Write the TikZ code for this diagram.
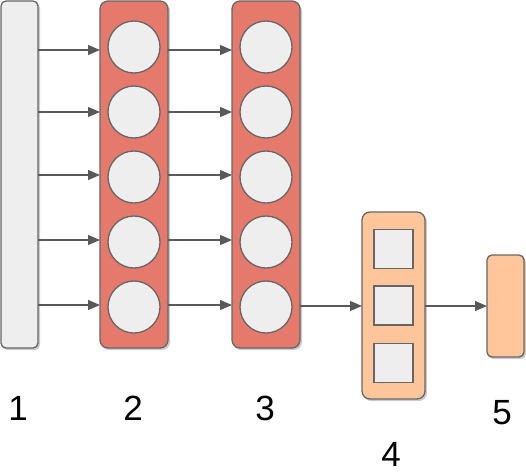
\documentclass[tikz,border=0pt]{standalone}
\usepackage{fontspec}
\setmainfont{Liberation Sans}
\usetikzlibrary{arrows.meta}
\definecolor{lgray}{HTML}{EEEEEE}
\definecolor{bord}{HTML}{666666}
\definecolor{salmon}{HTML}{E57A6C}
\definecolor{peach}{HTML}{FFC69C}
\definecolor{arr}{HTML}{595959}
\begin{document}
\begin{tikzpicture}[x=1pt,y=-1pt,
  box/.style={draw=bord,line width=1.3pt,rounded corners=#1,inner sep=0pt,outer sep=0pt},
  unit/.style={circle,draw=bord,fill=lgray,line width=1.3pt,minimum size=52pt,inner sep=0pt},
  cell/.style={rectangle,draw=bord,fill=lgray,line width=1.3pt,minimum size=39pt,inner sep=0pt},
  conn/.style={draw=arr,line width=1.2pt,-{Triangle[length=12pt,width=10pt]}},
  lbl/.style={font=\fontsize{35}{40}\selectfont,inner sep=0pt}]
\useasboundingbox (0,0) rectangle (526,474);
% shadows
\fill[black!20,rounded corners=5pt] (2,3) rectangle (40,350);
\fill[black!20,rounded corners=8pt] (101,3) rectangle (170,350);
\fill[black!20,rounded corners=8pt] (233,3) rectangle (302,350);
\fill[black!20,rounded corners=8pt] (363,214) rectangle (427,401);
\fill[black!20,rounded corners=5pt] (488,257) rectangle (526,359);
% boxes
\node[box=5pt,fill=lgray,minimum width=37pt,minimum height=347pt] (b1) at (19.5,174.5) {};
\node[box=8pt,fill=salmon,minimum width=68pt,minimum height=347pt] (b2) at (134,174.5) {};
\node[box=8pt,fill=salmon,minimum width=68pt,minimum height=347pt] (b3) at (266,174.5) {};
\node[box=8pt,fill=peach,minimum width=63pt,minimum height=187pt] (b4) at (393.5,305.5) {};
\node[box=5pt,fill=peach,minimum width=37pt,minimum height=102pt] (b5) at (505.5,306) {};
% circles
\foreach \i/\y in {1/47,2/112,3/177,4/242,5/307}{
  \node[unit] (c2\i) at (134,\y) {};
  \node[unit] (c3\i) at (266,\y) {};
}
% squares
\node[cell] (s1) at (393.5,249) {};
\node[cell] (s2) at (393.5,305.5) {};
\node[cell] (s3) at (393.5,363) {};
% arrows
\foreach \i/\y in {1/50,2/112,3/175,4/240,5/305}{
  \coordinate (p\i) at (0,\y);
  \draw[conn] (b1.east |- p\i) -- (b2.west |- p\i);
  \draw[conn] (b2.east |- p\i) -- (b3.west |- p\i);
}
\coordinate (q) at (0,306);
\draw[conn] (b3.east |- q) -- (b4.west |- q);
\draw[conn] (b4.east |- q) -- (b5.west |- q);
% labels
\node[lbl] (l1) at (18,408) {1};
\node[lbl] (l2) at (133,408) {2};
\node[lbl] (l3) at (265,408) {3};
\node[lbl] (l4) at (391,454) {4};
\node[lbl] (l5) at (502,413) {5};
\end{tikzpicture}
\end{document}
